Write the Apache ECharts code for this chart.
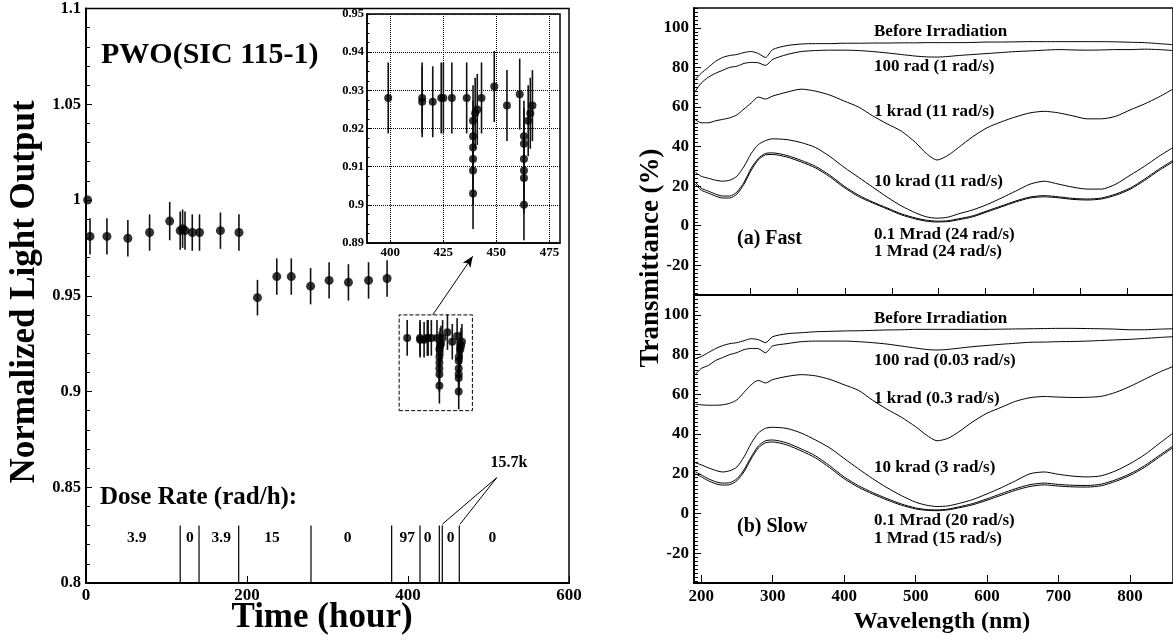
<!DOCTYPE html>
<html>
<head>
<meta charset="utf-8">
<script src="https://cdn.jsdelivr.net/npm/echarts@6/dist/echarts.min.js"></script>
<style>
  html, body { margin: 0; padding: 0; background: #fff; }
  #chart { width: 1173px; height: 642px; }
</style>
</head>
<body>
<div id="chart"></div>
<script>
// ---- left panel: light output vs time ----
const earlyHours = [2, 5, 26, 52, 79, 104, 117, 120, 123, 132, 141, 167, 190, 213, 237, 255, 279, 302, 326, 351, 374];
const earlyLight = [1.000, 0.981, 0.981, 0.980, 0.983, 0.989, 0.984, 0.985, 0.984, 0.983, 0.983, 0.984, 0.983, 0.949, 0.960, 0.960, 0.955, 0.958, 0.957, 0.958, 0.959];
const earlyErr = [0, 0.0095, 0.0095, 0.0095, 0.0095, 0.0100, 0.0100, 0.0100, 0.0100, 0.0095, 0.0095, 0.0095, 0.0095, 0.0093, 0.0095, 0.0095, 0.0095, 0.0095, 0.0095, 0.0095, 0.0095];

const clusterHours = [399, 415, 415, 420, 424, 425, 429, 436, 439, 439, 439, 439, 439, 439, 440, 441, 443, 449, 455, 461, 463, 463, 463, 463, 463, 463, 465, 466, 467];
const clusterLight = [0.928, 0.928, 0.927, 0.927, 0.928, 0.928, 0.928, 0.928, 0.903, 0.909, 0.912, 0.915, 0.918, 0.922, 0.924, 0.925, 0.928, 0.931, 0.926, 0.929, 0.900, 0.907, 0.909, 0.912, 0.916, 0.918, 0.922, 0.924, 0.926];
const clusterErr = [0.0093, 0.0093, 0.0093, 0.0093, 0.0093, 0.0093, 0.0093, 0.0093, 0.0093, 0.0093, 0.0093, 0.0093, 0.0093, 0.0093, 0.0093, 0.0093, 0.0093, 0.0093, 0.0093, 0.0093, 0.0093, 0.0093, 0.0093, 0.0093, 0.0093, 0.0093, 0.0093, 0.0093, 0.0093];

const doseEdges = [117, 140.4, 189.7, 279.5, 379.7, 414.9, 438.9, 442.6, 463.7];
const doseLabelHours = [63, 129, 168, 231, 325, 399, 424.5, 453, 504.7];
const doseLabels = ['3.9', '0', '3.9', '15', '0', '97', '0', '0', '0'];

const insetXTicks = [400, 425, 450, 475];

// ---- right panels: transmittance ----
const wl = [192, 200, 210, 220, 230, 240, 250, 260, 270, 280, 290, 300, 320, 340, 360, 380, 400, 420, 440, 460, 480, 500, 515, 530, 545, 560, 580, 600, 620, 640, 660, 680, 700, 720, 740, 760, 780, 800, 820, 840, 860];

const fastBefore = [74, 77, 80, 83, 85, 86, 86.5, 87.5, 88, 87, 85, 89, 91, 91.8, 92, 92, 92.2, 92.2, 92.3, 92.3, 92.4, 92.4, 92.5, 92.5, 92.5, 92.5, 92.6, 92.8, 92.8, 92.9, 93, 93, 93, 93, 93, 93, 92.9, 92.7, 92.5, 92, 91.5];
const fast100rad = [68, 72, 75, 77, 78.5, 80, 80.6, 82, 82.5, 82.3, 81, 84, 86.5, 88, 88.5, 88.7, 88.7, 88.5, 88, 87.3, 86.5, 85.7, 85.3, 85.2, 85.5, 86, 86.5, 87, 87.5, 88, 88.3, 88.7, 89, 88.8, 88.7, 88.8, 89, 89, 89.2, 89, 88.5];
const fast1krad = [53.5, 52, 52, 53, 53.7, 54.5, 56, 59, 62, 65, 64, 65.5, 67.5, 69, 68, 66, 63, 60, 55.5, 51.5, 47.8, 42, 36.5, 33.2, 35.5, 39.5, 45, 49.5, 52.5, 55, 57, 57.8, 57, 55.5, 54, 54, 55.3, 58.5, 61.5, 65, 69];
const fast10krad = [27, 25, 24, 23, 22.5, 23, 25, 30, 36.5, 41, 43, 43.9, 43.5, 42, 39.5, 35, 29.5, 24.5, 19.5, 14.5, 10, 6.5, 4.5, 3.8, 4.3, 6, 8, 10.7, 14, 17.5, 21, 22.5, 21, 19.5, 18.5, 18.5, 21, 25.5, 30, 35, 39.5];
const fast01Mrad = [22, 19, 17.5, 16, 15, 15, 17, 22, 29, 34, 36.5, 36.8, 35.5, 33, 30, 25.5, 20, 15.5, 12, 9, 6, 3.9, 2.8, 2.3, 2.5, 3.5, 5, 7.5, 10, 12.5, 14.5, 15.2, 14.6, 13.8, 13.5, 14, 16, 19, 23.5, 28.5, 33];
const fast1Mrad = [21, 18, 16.5, 15, 14, 14, 16, 21, 28, 33.3, 35.8, 36, 34.7, 32.2, 29.2, 24.7, 19.3, 14.8, 11.5, 8.5, 5.5, 3.4, 2.3, 1.9, 2.1, 3, 4.5, 7, 9.5, 12, 14, 14.6, 14.1, 13.3, 13, 13.5, 15.4, 18.4, 22.8, 27.8, 32.3];

const slowBefore = [78, 79, 81, 83, 84.5, 85.5, 86, 87, 88, 87.5, 86, 89, 90.5, 91, 91.5, 91.7, 91.9, 92, 92.2, 92.4, 92.5, 92.7, 92.7, 92.7, 92.7, 92.7, 92.7, 92.7, 92.8, 92.9, 93, 93.1, 93.2, 93.2, 93.1, 93, 92.8, 92.5, 92.5, 92.8, 93];
const slow100rad = [70, 73, 74.5, 77, 78.5, 80, 81, 82.5, 83.1, 83, 80.9, 84.3, 85.5, 86.5, 86.8, 86.8, 86.8, 86.5, 86, 85.3, 84.3, 83.3, 82.6, 82.3, 82.6, 83.2, 84, 84.6, 85.2, 85.7, 86.2, 86.3, 86.5, 86.6, 86.8, 87.1, 87.4, 87.7, 88.1, 88.6, 89];
const slow1krad = [55, 54.7, 54.5, 54.5, 54.7, 55.5, 57.2, 61, 64.8, 67, 65.7, 67.4, 69, 69.9, 69.3, 67.5, 64.8, 62, 57, 52.5, 48.5, 43.7, 39.5, 36.6, 37.8, 41, 46.2, 50.5, 53.5, 56.5, 58.3, 58.9, 58.6, 58.4, 58.5, 59, 61, 64, 67.5, 71, 74];
const slow10krad = [25.5, 24.5, 23, 21.7, 20.9, 21.5, 23.4, 28.5, 35.3, 40.5, 42.9, 43.4, 42.8, 40.5, 37, 33, 27.7, 22.5, 17.5, 13, 9, 5.7, 4.2, 3.5, 3.8, 5, 7, 9.9, 13, 16.5, 20, 20.9, 19.7, 18.8, 18.4, 19, 21.5, 25.1, 29.5, 35, 40.5];
const slow01Mrad = [21, 19.5, 17.5, 16, 15.3, 15.5, 17.5, 22, 28.5, 34, 36.6, 37, 35.5, 32.5, 29, 24, 18.4, 14, 10.5, 7.5, 4.8, 2.8, 2, 1.8, 2.2, 3.3, 5, 7.4, 10, 12.5, 14.5, 15.3, 14.6, 14.2, 14.1, 14.8, 17, 20, 24, 29, 34];
const slow1Mrad = [20, 18.5, 16.5, 15, 14.3, 14.5, 16.5, 21, 27.5, 33, 35.6, 36, 34.5, 31.5, 28, 23, 17.5, 13.2, 9.8, 6.8, 4.2, 2.3, 1.6, 1.4, 1.8, 2.8, 4.4, 6.7, 9.2, 11.7, 13.6, 14.4, 13.8, 13.4, 13.3, 14, 16.2, 19.2, 23.2, 28.2, 33.2];

const transLabels = [-20, 0, 20, 40, 60, 80, 100];
const wlLabels = [200, 300, 400, 500, 600, 700, 800];
const fastPanelTicks = [269, 335, 401, 467, 532, 598, 664, 730, 796];

const FONT = '"Liberation Serif", "Times New Roman", serif';
const minorTrans = [];
for (let v = -34; v <= 110; v += 2) {
  if (v % 20 !== 0) minorTrans.push(v);
}

const pairs = (xs, ys) => xs.map((x, i) => [x, ys[i]]);
const triples = (xs, ys, es) => xs.map((x, i) => [x, ys[i], es[i]]);

const errorBars = (params, api) => {
  const x = api.value(0);
  const y = api.value(1);
  const e = api.value(2);
  if (!e) return null;
  const top = api.coord([x, y + e]);
  const bot = api.coord([x, y - e]);
  return {
    type: 'line',
    shape: { x1: top[0], y1: top[1], x2: bot[0], y2: bot[1] },
    style: { stroke: '#111', lineWidth: 1.6 }
  };
};

const tickLabel = (size) => ({
  color: '#000', fontFamily: FONT, fontWeight: 'bold', fontSize: size
});

const txt = (text, x, y, size, extra) => Object.assign({
  type: 'text',
  x, y,
  silent: true,
  style: {
    text,
    font: 'bold ' + size + 'px ' + FONT,
    fill: '#000',
    align: 'left', textAlign: 'left',
    verticalAlign: 'middle', textVerticalAlign: 'middle'
  }
}, extra || {});

const centered = (text, x, y, size, extra) => {
  const t = txt(text, x, y, size, extra);
  t.style.align = 'center';
  t.style.textAlign = 'center';
  return t;
};

const transLine = (data, xi, yi) => ({
  type: 'line',
  xAxisIndex: xi,
  yAxisIndex: yi,
  data: pairs(wl, data),
  symbol: 'none',
  smooth: 0.25,
  silent: true,
  lineStyle: { color: '#000', width: 1 }
});

const chart = echarts.init(document.getElementById('chart'));

const option = {
  animation: false,
  backgroundColor: '#fff',
  grid: [
    { left: 86, top: 8, width: 483, height: 575, show: true, borderColor: '#000', borderWidth: 1.5, backgroundColor: '#fff' },
    { left: 367, top: 14, width: 193, height: 229, show: true, borderColor: '#000', borderWidth: 1.5, backgroundColor: '#fff' },
    { left: 694, top: 8, width: 481, height: 287, show: true, borderColor: '#000', borderWidth: 1.5 },
    { left: 694, top: 295, width: 481, height: 288, show: true, borderColor: '#000', borderWidth: 1.5 }
  ],
  xAxis: [
    {
      gridIndex: 0, type: 'value', min: 0, max: 600, interval: 200,
      axisLine: { onZero: false, lineStyle: { color: '#000', width: 2 } },
      axisTick: { inside: true, length: 7, lineStyle: { color: '#000', width: 1 } },
      axisLabel: Object.assign({ margin: 4 }, tickLabel(17)),
      splitLine: { show: false }
    },
    {
      gridIndex: 1, type: 'value', min: 389, max: 480,
      axisLine: { onZero: false, lineStyle: { color: '#000', width: 1.5 } },
      axisTick: { customValues: insetXTicks, inside: true, length: 3, lineStyle: { color: '#000' } },
      axisLabel: Object.assign({ customValues: insetXTicks, margin: 3 }, tickLabel(13)),
      splitLine: { show: true, lineStyle: { color: '#000', type: 'dotted', width: 1 } }
    },
    {
      gridIndex: 2, type: 'value', min: 190, max: 860,
      axisLine: { onZero: false, lineStyle: { color: '#000', width: 2 } },
      axisTick: { customValues: fastPanelTicks, inside: true, length: 7, lineStyle: { color: '#000' } },
      axisLabel: { show: false },
      splitLine: { show: false }
    },
    {
      gridIndex: 3, type: 'value', min: 190, max: 860,
      axisLine: { onZero: false, lineStyle: { color: '#000', width: 2 } },
      axisTick: { customValues: wlLabels, inside: true, length: 8, lineStyle: { color: '#000' } },
      axisLabel: Object.assign({ customValues: wlLabels, margin: 5 }, tickLabel(17)),
      splitLine: { show: false }
    }
  ],
  yAxis: [
    {
      gridIndex: 0, type: 'value', min: 0.8, max: 1.1, interval: 0.05,
      axisLine: { onZero: false, lineStyle: { color: '#000', width: 2 } },
      axisTick: { inside: true, length: 6, lineStyle: { color: '#000' } },
      minorTick: { show: true, splitNumber: 5, length: 4, lineStyle: { color: '#000' } },
      axisLabel: Object.assign({ margin: 5 }, tickLabel(16.5)),
      splitLine: { show: false }
    },
    {
      gridIndex: 1, type: 'value', min: 0.89, max: 0.95, interval: 0.01,
      axisLine: { onZero: false, lineStyle: { color: '#000', width: 1.5 } },
      axisTick: { inside: true, length: 4, lineStyle: { color: '#000' } },
      minorTick: { show: true, splitNumber: 4, length: 2.5, lineStyle: { color: '#000' } },
      axisLabel: Object.assign({ margin: 3 }, tickLabel(12.5)),
      splitLine: { show: true, lineStyle: { color: '#000', type: 'dotted', width: 1 } }
    },
    {
      gridIndex: 2, type: 'value', min: -35, max: 110,
      axisLine: { onZero: false, lineStyle: { color: '#000', width: 2 } },
      axisTick: { customValues: transLabels, inside: true, length: 7, lineStyle: { color: '#000' } },
      axisLabel: Object.assign({ customValues: transLabels, margin: 5 }, tickLabel(17)),
      splitLine: { show: false }
    },
    {
      gridIndex: 2, type: 'value', min: -35, max: 110, position: 'left',
      axisLine: { show: false, onZero: false },
      axisTick: { customValues: minorTrans, inside: true, length: 4, lineStyle: { color: '#000' } },
      axisLabel: { show: false },
      splitLine: { show: false }
    },
    {
      gridIndex: 3, type: 'value', min: -35, max: 110,
      axisLine: { onZero: false, lineStyle: { color: '#000', width: 2 } },
      axisTick: { customValues: transLabels, inside: true, length: 7, lineStyle: { color: '#000' } },
      axisLabel: Object.assign({ customValues: transLabels, margin: 5 }, tickLabel(17)),
      splitLine: { show: false }
    },
    {
      gridIndex: 3, type: 'value', min: -35, max: 110, position: 'left',
      axisLine: { show: false, onZero: false },
      axisTick: { customValues: minorTrans, inside: true, length: 4, lineStyle: { color: '#000' } },
      axisLabel: { show: false },
      splitLine: { show: false }
    }
  ],
  series: [
    // main panel error bars + points
    {
      type: 'custom', xAxisIndex: 0, yAxisIndex: 0, silent: true, z: 2,
      renderItem: errorBars,
      data: triples(earlyHours, earlyLight, earlyErr).concat(triples(clusterHours, clusterLight, clusterErr))
    },
    {
      type: 'scatter', xAxisIndex: 0, yAxisIndex: 0, silent: true, z: 3,
      symbol: 'circle', symbolSize: 9,
      itemStyle: { color: '#000' },
      data: pairs(earlyHours, earlyLight)
    },
    {
      type: 'scatter', xAxisIndex: 0, yAxisIndex: 0, silent: true, z: 3,
      symbol: 'circle', symbolSize: 8,
      itemStyle: { color: '#000' },
      data: pairs(clusterHours, clusterLight),
      markArea: {
        silent: true,
        itemStyle: { color: 'rgba(0,0,0,0)', borderColor: '#000', borderWidth: 1, borderType: 'dashed' },
        data: [[{ coord: [389, 0.89] }, { coord: [480, 0.94] }]]
      },
      markLine: {
        silent: true,
        label: { show: false },
        lineStyle: { color: '#000', width: 1, type: 'solid' },
        symbol: ['none', 'none'],
        data: [
          [{ coord: [430.7, 0.94], symbol: 'none' }, { coord: [480.4, 0.9706], symbol: 'arrow', symbolSize: [7, 11] }],
          [{ coord: [510.2, 0.855] }, { coord: [442.6, 0.8307] }],
          [{ coord: [510.2, 0.855] }, { coord: [464.6, 0.8307] }]
        ]
      }
    },
    // dose-rate period boundaries and values
    {
      type: 'custom', xAxisIndex: 0, yAxisIndex: 0, silent: true,
      renderItem: (params, api) => {
        const a = api.coord([api.value(0), 0.8]);
        const b = api.coord([api.value(0), 0.83]);
        return {
          type: 'line',
          shape: { x1: a[0], y1: a[1], x2: b[0], y2: b[1] },
          style: { stroke: '#000', lineWidth: 1.2 }
        };
      },
      data: doseEdges.map(h => [h])
    },
    {
      type: 'custom', xAxisIndex: 0, yAxisIndex: 0, silent: true,
      renderItem: (params, api) => {
        const p = api.coord([api.value(0), 0.8234]);
        return {
          type: 'text',
          x: p[0], y: p[1],
          style: {
            text: doseLabels[params.dataIndex],
            font: 'bold 15.5px ' + FONT,
            fill: '#000',
            align: 'center', textAlign: 'center',
            verticalAlign: 'middle', textVerticalAlign: 'middle'
          }
        };
      },
      data: doseLabelHours.map(h => [h])
    },
    // inset
    {
      type: 'custom', xAxisIndex: 1, yAxisIndex: 1, silent: true, z: 4,
      renderItem: errorBars,
      data: triples(clusterHours, clusterLight, clusterErr)
    },
    {
      type: 'scatter', xAxisIndex: 1, yAxisIndex: 1, silent: true, z: 5,
      symbol: 'circle', symbolSize: 8,
      itemStyle: { color: '#000' },
      data: pairs(clusterHours, clusterLight)
    },
    // transmittance, fast
    transLine(fastBefore, 2, 2),
    transLine(fast100rad, 2, 2),
    transLine(fast1krad, 2, 2),
    transLine(fast10krad, 2, 2),
    transLine(fast01Mrad, 2, 2),
    transLine(fast1Mrad, 2, 2),
    // transmittance, slow
    transLine(slowBefore, 3, 4),
    transLine(slow100rad, 3, 4),
    transLine(slow1krad, 3, 4),
    transLine(slow10krad, 3, 4),
    transLine(slow01Mrad, 3, 4),
    transLine(slow1Mrad, 3, 4)
  ],
  graphic: [
    txt('PWO(SIC 115-1)', 101, 55, 30),
    txt('Dose Rate (rad/h):', 100, 498, 25),
    centered('15.7k', 509, 463, 16),
    centered('Normalized Light Output', 25, 292, 35, { rotation: Math.PI / 2 }),
    centered('Time (hour)', 322, 618, 35),

    txt('Before Irradiation', 874, 32, 17),
    txt('100 rad (1 rad/s)', 874, 67, 17),
    txt('1 krad (11 rad/s)', 874, 112, 17),
    txt('10 krad (11 rad/s)', 874, 182, 17),
    txt('0.1 Mrad (24 rad/s)', 874, 235, 17),
    txt('1 Mrad (24 rad/s)', 874, 252, 17),
    txt('(a) Fast', 737, 239, 20),

    txt('Before Irradiation', 874, 319, 17),
    txt('100 rad (0.03 rad/s)', 874, 361, 17),
    txt('1 krad (0.3 rad/s)', 874, 399, 17),
    txt('10 krad (3 rad/s)', 874, 468, 17),
    txt('0.1 Mrad (20 rad/s)', 874, 521, 17),
    txt('1 Mrad (15 rad/s)', 874, 539, 17),
    txt('(b) Slow', 737, 527, 20),

    centered('Transmittance (%)', 651, 258, 27, { rotation: Math.PI / 2 }),
    centered('Wavelength (nm)', 942, 622, 24)
  ]
};

chart.setOption(option);
</script>
</body>
</html>
